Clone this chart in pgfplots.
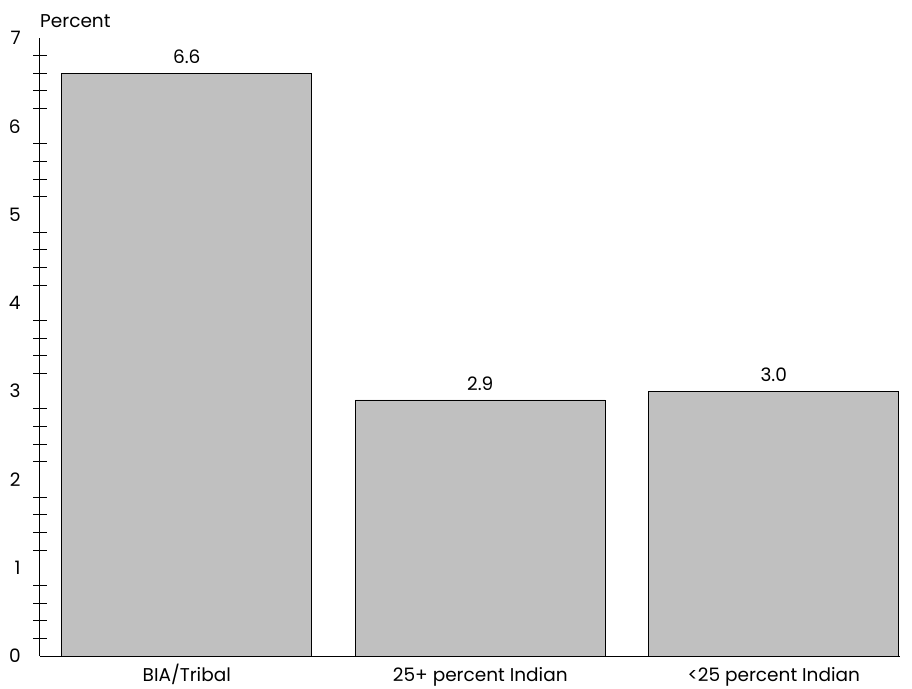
\documentclass[border=0pt]{standalone}
\usepackage{pgfplots}
\pgfplotsset{compat=1.18}
\usepackage{fontspec}
\setmainfont{Poppins}
\begin{document}
\fontsize{18.5}{21}\selectfont
\begin{tikzpicture}
\useasboundingbox (0,0) rectangle (912pt,688pt);
\begin{axis}[
  at={(40pt,32pt)}, anchor=south west,
  scale only axis, width=860pt, height=618pt,
  xmin=-0.5, xmax=2.43, ymin=0, ymax=7,
  axis lines=left, axis line style={-, line width=1pt, black},
  clip=false,
  xtick={0,1,2},
  xticklabels={BIA/Tribal, 25+ percent Indian, <25 percent Indian},
  xticklabel style={anchor=base, yshift=-25pt},
  ytick={0,1,...,7},
  yticklabel style={xshift=-13pt},
  major tick length=0pt,
  minor ytick={0.2,0.4,0.6,0.8,1.2,1.4,1.6,1.8,2.2,2.4,2.6,2.8,3.2,3.4,3.6,3.8,4.2,4.4,4.6,4.8,5.2,5.4,5.6,5.8,6.2,6.4,6.6,6.8},
  minor tick length=14pt, tick align=center,
  minor tick style={line width=1pt, black},
  /pgf/number format/assume math mode=true,
  ybar, bar width=0.851,
  nodes near coords,
  nodes near coords style={/pgf/number format/.cd, fixed, fixed zerofill, precision=1, /tikz/.cd, yshift=3pt},
]
\addplot[fill={rgb,255:red,192;green,192;blue,192}, draw=black, line width=0.9pt] coordinates {(0,6.6) (1,2.9) (2,3.0)};
\node[anchor=base west, inner sep=0pt] at ([yshift=11pt]rel axis cs:0,1) {Percent};
\end{axis}
\end{tikzpicture}
\end{document}
